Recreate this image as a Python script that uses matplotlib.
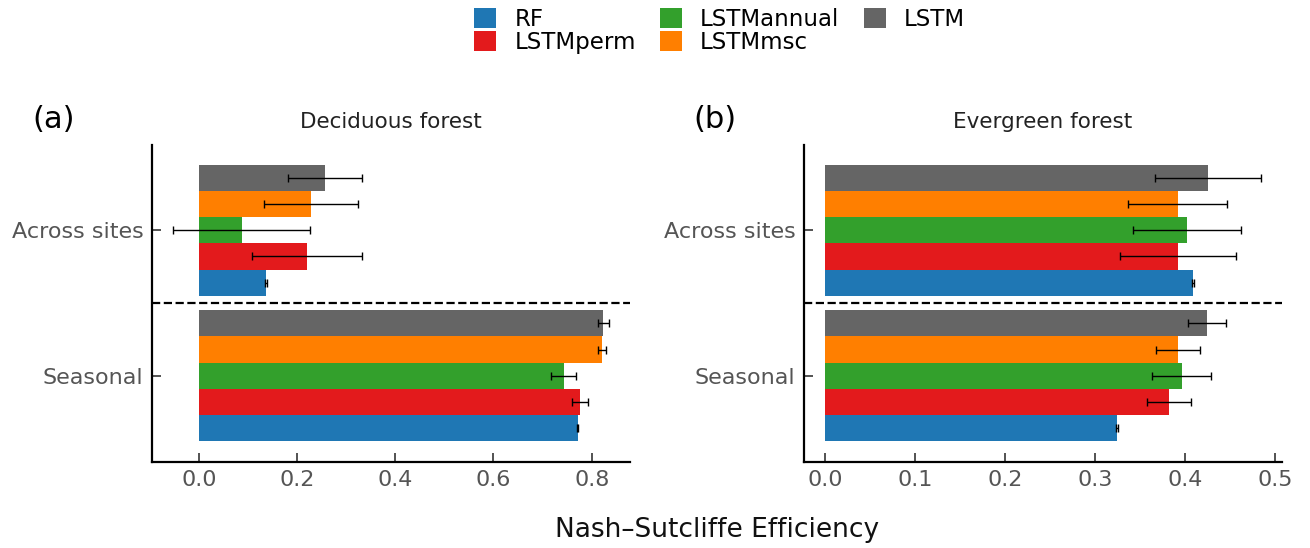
import matplotlib
matplotlib.use("Agg")
import matplotlib.pyplot as plt
import numpy as np
from matplotlib.patches import Patch

plt.rcParams['font.family'] = ['DejaVu Sans']

models = ['RF', 'LSTMperm', 'LSTMannual', 'LSTMmsc', 'LSTM']
colors = ['#1f77b4', '#e31a1c', '#33a02c', '#ff7f00', '#656565']
groups = ['Seasonal', 'Across sites']

dec_seasonal = [0.772, 0.776, 0.743, 0.821, 0.824]
dec_seasonal_err = [0.001, 0.017, 0.025, 0.009, 0.012]
dec_across = [0.136, 0.220, 0.087, 0.228, 0.257]
dec_across_err = [0.002, 0.112, 0.140, 0.096, 0.075]

eve_seasonal = [0.324, 0.382, 0.396, 0.392, 0.424]
eve_seasonal_err = [0.001, 0.024, 0.033, 0.024, 0.021]
eve_across = [0.409, 0.392, 0.402, 0.392, 0.425]
eve_across_err = [0.001, 0.064, 0.060, 0.055, 0.059]

titles = ['Deciduous forest', 'Evergreen forest']
panel_labels = ['(a)', '(b)']
xticks_list = [[0.0, 0.2, 0.4, 0.6, 0.8], [0.0, 0.1, 0.2, 0.3, 0.4, 0.5]]
xlims = [(-0.096, 0.878), (-0.024, 0.508)]

fig = plt.figure(figsize=(13.1, 5.48), dpi=100)
W, H = 1310, 548
ax_a = fig.add_axes([151.7 / W, 1 - 462 / H, 478.3 / W, 317 / H])
ax_b = fig.add_axes([803.7 / W, 1 - 462 / H, 478.6 / W, 317 / H])

data = [
    (dec_seasonal, dec_seasonal_err, dec_across, dec_across_err),
    (eve_seasonal, eve_seasonal_err, eve_across, eve_across_err),
]

bar_h = 0.18
offsets = (np.arange(len(models)) - 2) * bar_h

for i, ax in enumerate([ax_a, ax_b]):
    s, se, a, ae = data[i]
    for j, m in enumerate(models):
        vals = [s[j], a[j]]
        errs = [se[j], ae[j]]
        ys = np.arange(len(groups)) + offsets[j]
        ax.barh(ys, vals, height=bar_h, color=colors[j], edgecolor='none',
                label=m, zorder=2)
        ax.errorbar(vals, ys, xerr=errs, fmt='none', ecolor='black',
                    elinewidth=1.0, capsize=2.6, capthick=1.0, zorder=3)
    ax.axhline(0.5, color='black', linestyle='--', linewidth=1.6, zorder=4)
    ax.set_ylim(-0.594, 1.587)
    ax.set_xlim(*xlims[i])
    ax.set_yticks(np.arange(len(groups)))
    ax.set_yticklabels(groups)
    ax.set_xticks(xticks_list[i])
    ax.set_xticklabels([f'{t:.1f}' for t in xticks_list[i]])
    for sp in ['top', 'right']:
        ax.spines[sp].set_visible(False)
    for sp in ['left', 'bottom']:
        ax.spines[sp].set_linewidth(1.6)
        ax.spines[sp].set_color('black')
    ax.tick_params(axis='both', direction='in', length=6.5, width=1.3,
                   color='#444444', labelcolor='#555555', labelsize=16, pad=6)
    ax.set_title(titles[i], fontsize=15.5, color='#222222', pad=12)

fig.text(54 / W, 1 - 120 / H, panel_labels[0], fontsize=22, ha='center', va='center')
fig.text(715 / W, 1 - 120 / H, panel_labels[1], fontsize=22, ha='center', va='center')

fig.text(717 / W, 1 - 530 / H, 'Nash\u2013Sutcliffe Efficiency', fontsize=19,
         ha='center', va='center', color='#111111')

handles = [Patch(facecolor=c, edgecolor='none') for c in colors]
fig.legend(handles, models, loc='upper left', bbox_to_anchor=(474 / W, 1 - 8 / H),
           ncol=3, frameon=False, fontsize=16.5, handlelength=0.96, handleheight=0.96,
           handletextpad=0.8, columnspacing=1.05, labelspacing=0.0,
           borderpad=0, borderaxespad=0)

fig.savefig('out.png', dpi=100)
